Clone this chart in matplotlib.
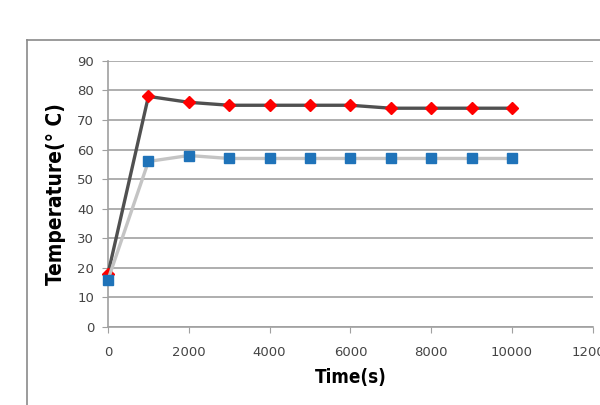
import matplotlib.pyplot as plt
from matplotlib.lines import Line2D

# time points (s)
time_s = [0, 1000, 2000, 3000, 4000, 5000, 6000, 7000, 8000, 9000, 10000]
# upper series (red diamonds)
temp_upper = [18, 78, 76, 75, 75, 75, 75, 74, 74, 74, 74]
# lower series (blue squares)
temp_lower = [16, 56, 58, 57, 57, 57, 57, 57, 57, 57, 57]

x_ticks = [0, 2000, 4000, 6000, 8000, 10000, 12000]
y_ticks = [0, 10, 20, 30, 40, 50, 60, 70, 80, 90]

fig = plt.figure(figsize=(6, 4.05), dpi=100)
ax = fig.add_axes([0.18, 0.1926, 0.808, 0.657])

ax.plot(time_s, temp_upper, color='#505050', lw=2.4, marker='D', ms=6.5,
        mfc='#ff0000', mec='#ff0000', zorder=3, clip_on=False)
ax.plot(time_s, temp_lower, color='#c4c4c4', lw=2.4, marker='s', ms=7.5,
        mfc='#1f73b9', mec='#1f73b9', zorder=4, clip_on=False)

ax.set_xlim(0, 12000)
ax.set_ylim(0, 90)
ax.set_xticks(x_ticks)
ax.set_yticks(y_ticks)
ax.grid(axis='y', color='#a8a8a8', lw=1.3)
ax.set_axisbelow(True)

for s in ['top', 'right']:
    ax.spines[s].set_visible(False)
for s in ['left', 'bottom']:
    ax.spines[s].set_color('#a0a0a0')
    ax.spines[s].set_linewidth(1.2)

ax.tick_params(axis='x', length=4, color='#a0a0a0', pad=10, labelsize=9.5,
               labelcolor='#444444')
ax.tick_params(axis='y', length=4, color='#a0a0a0', pad=6, labelsize=9.5,
               labelcolor='#444444')

ax.set_xlabel('Time(s)', family='DejaVu Sans', fontstretch='condensed',
              fontweight='bold', fontsize=13.5, labelpad=6)
ax.set_ylabel('Temperature(° C)', family='DejaVu Sans', fontstretch='condensed',
              fontweight='bold', fontsize=15, labelpad=8)

# outer chart frame (cropped)
fig.add_artist(Line2D([0.045, 0.045], [0, 0.901], color='#8a8a8a', lw=1.2,
                      transform=fig.transFigure))
fig.add_artist(Line2D([0.045, 1.0], [0.901, 0.901], color='#8a8a8a', lw=1.2,
                      transform=fig.transFigure))

fig.savefig('out.png', dpi=100)
